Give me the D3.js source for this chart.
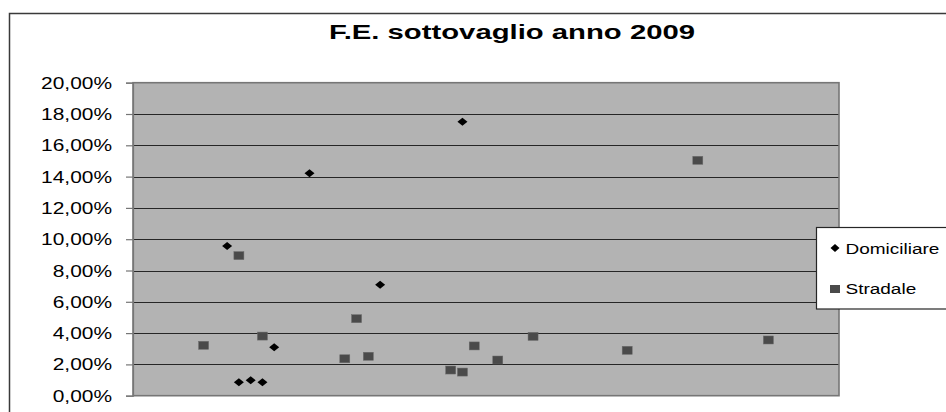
<!DOCTYPE html>
<html>
<head>
<meta charset="utf-8">
<script src="https://cdn.jsdelivr.net/npm/d3@7"></script>
<style>
  html, body { margin: 0; padding: 0; background: #ffffff; }
  svg { display: block; }
  text { font-family: "Liberation Sans", Arial, sans-serif; fill: #000; }
</style>
</head>
<body>
<svg id="chart" width="946" height="412"></svg>
<script>
// Sample positions along the horizontal axis (unlabelled index)
const domiciliareX = [8, 9, 10, 11, 12, 15, 21, 28];
const domiciliareY = [0.0957, 0.0086, 0.0098, 0.0086, 0.0309, 0.1421, 0.0709, 0.1751];
const stradaleX = [6, 9, 11, 18, 19, 20, 27, 28, 29, 31, 34, 42, 48, 54];
const stradaleY = [0.0322, 0.0895, 0.0381, 0.0236, 0.0492, 0.0252, 0.0164, 0.0151, 0.0318, 0.0228, 0.0379, 0.0290, 0.1504, 0.0356];
const yTicks = [0, 0.02, 0.04, 0.06, 0.08, 0.10, 0.12, 0.14, 0.16, 0.18, 0.20];
const seriesNames = ["Domiciliare", "Stradale"];
const chartTitle = "F.E. sottovaglio anno 2009";

const svg = d3.select("#chart");
const plot = { left: 133, top: 82.7, right: 839, bottom: 395.7 };
const stretch = 1.21; // horizontal stretch of the lettering

const x = d3.scaleLinear().domain([0, 60]).range([plot.left, plot.right]);
const y = d3.scaleLinear().domain([0, 0.20]).range([plot.bottom, plot.top]);

const it = d3.formatLocale({ decimal: ",", thousands: ".", grouping: [3], currency: ["€", ""] });
const pct = it.format(".2%");

// Outer chart frame
svg.append("rect")
  .attr("x", 9.5).attr("y", 13.5)
  .attr("width", 960).attr("height", 420)
  .attr("fill", "#fff").attr("stroke", "#3a3a3a").attr("stroke-width", 1.5);

// Title
svg.append("text")
  .attr("x", 512).attr("y", 39)
  .attr("text-anchor", "middle")
  .attr("font-size", 21).attr("font-weight", "bold")
  .attr("textLength", 366).attr("lengthAdjust", "spacingAndGlyphs")
  .text(chartTitle);

// Plot background
svg.append("rect")
  .attr("x", plot.left).attr("y", plot.top)
  .attr("width", plot.right - plot.left).attr("height", plot.bottom - plot.top)
  .attr("fill", "#b3b3b3");

// Horizontal gridlines
svg.append("g").selectAll("line")
  .data(yTicks.slice(1, -1))
  .join("line")
  .attr("x1", plot.left).attr("x2", plot.right)
  .attr("y1", d => Math.round(y(d)) + 0.5).attr("y2", d => Math.round(y(d)) + 0.5)
  .attr("stroke", "#262626").attr("stroke-width", 1.2);

// Plot border
svg.append("rect")
  .attr("x", plot.left).attr("y", plot.top)
  .attr("width", plot.right - plot.left).attr("height", plot.bottom - plot.top)
  .attr("fill", "none").attr("stroke", "#767676").attr("stroke-width", 1.6);

// Y axis
const yAxis = d3.axisLeft(y).tickValues(yTicks).tickFormat(pct).tickSize(7).tickPadding(14);
const gy = svg.append("g").attr("transform", `translate(${plot.left},0)`).call(yAxis);
gy.select(".domain").attr("stroke", "#767676").attr("stroke-width", 1.2);
gy.selectAll(".tick line").attr("stroke", "#767676").attr("stroke-width", 1.2);
gy.selectAll(".tick text")
  .attr("x", 0)
  .attr("transform", `translate(-21,0) scale(${stretch},1)`)
  .attr("font-family", "'Liberation Sans', Arial, sans-serif")
  .attr("font-size", 17.3)
  .attr("fill", "#000");

// Marker shapes
const diamond = (w, h) => `M0,${-h / 2}L${w / 2},0L0,${h / 2}L${-w / 2},0Z`;

// Stradale squares
svg.append("g").selectAll("rect")
  .data(stradaleX.map((d, i) => [d, stradaleY[i]]))
  .join("rect")
  .attr("x", d => x(d[0]) - 5).attr("y", d => y(d[1]) - 4)
  .attr("width", 10).attr("height", 8)
  .attr("fill", "#4a4a4a").attr("stroke", "#6a6a6a").attr("stroke-width", 0.5);

// Domiciliare diamonds
svg.append("g").selectAll("path")
  .data(domiciliareX.map((d, i) => [d, domiciliareY[i]]))
  .join("path")
  .attr("transform", d => `translate(${x(d[0])},${y(d[1])})`)
  .attr("d", diamond(10, 8))
  .attr("fill", "#000");

// Legend
const lg = svg.append("g");
lg.append("rect")
  .attr("x", 816.5).attr("y", 227.5).attr("width", 140).attr("height", 81.5)
  .attr("fill", "#fff").attr("stroke", "#262626").attr("stroke-width", 1.2);
lg.append("path")
  .attr("transform", "translate(835,248)")
  .attr("d", diamond(9, 8)).attr("fill", "#000");
lg.append("rect")
  .attr("x", 830).attr("y", 285).attr("width", 10).attr("height", 8)
  .attr("fill", "#4a4a4a");
[[253.5, seriesNames[0]], [294, seriesNames[1]]].forEach(([ty, name]) => {
  lg.append("text")
    .attr("transform", `translate(845.5,${ty}) scale(1.25,1)`)
    .attr("font-size", 15.2)
    .text(name);
});
</script>
</body>
</html>
